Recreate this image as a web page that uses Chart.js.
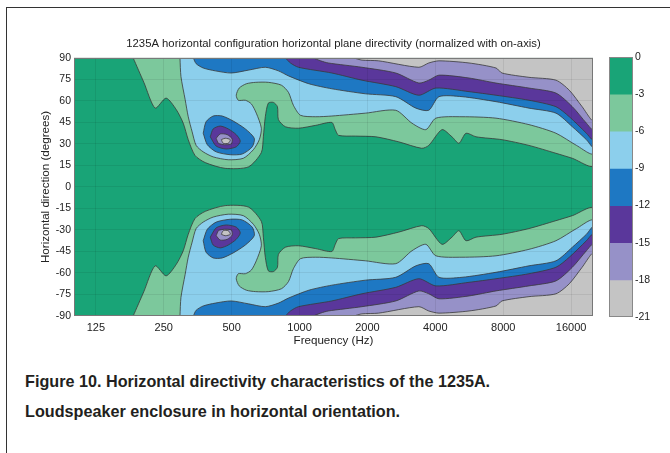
<!DOCTYPE html>
<html>
<head>
<meta charset="utf-8">
<script src="https://cdn.jsdelivr.net/npm/chart.js@4.4.0/dist/chart.umd.min.js"></script>
<style>
  html, body { margin: 0; padding: 0; background: #fff; }
  body { width: 670px; height: 453px; position: relative; overflow: hidden; font-family: "Liberation Sans", Arial, sans-serif; }
  #frame { position: absolute; left: 6px; top: 7px; width: 670px; height: 460px; border-top: 1.5px solid #333; border-left: 1.5px solid #333; }
  #plot { position: absolute; left: 0; top: 0; }
  #bar { position: absolute; left: 600px; top: 0; }
  #caption { position: absolute; left: 25px; top: 366px; font-size: 16.2px; font-weight: bold; line-height: 30px; color: #231f20; white-space: nowrap; }
</style>
</head>
<body>
<div id="frame"></div>
<canvas id="plot" width="600" height="348"></canvas>
<canvas id="bar" width="70" height="348"></canvas>
<div id="caption">Figure 10. Horizontal directivity characteristics of the 1235A.<br>Loudspeaker enclosure in horizontal orientation.</div>
<script>
// tick labels
const freqTicks = [125, 250, 500, 1000, 2000, 4000, 8000, 16000];
const levels = [0, -3, -6, -9, -12, -15, -18, -21];

// contour lines of the upper half, [Hz, degrees]; lower half is the mirror image
const contour3 = [[183,90],[204,73],[229,55],[256,62],[284,54],[305,44.5],[321,33],[344,22],[382,17],[468,13],[593,14],[677,24],[691,35],[705,49],[727,58.5],[766,59],[798,56],[806,47],[866,42],[989,41],[1180,43],[1390,45],[1440,40],[1490,36],[1770,35.5],[2180,35],[2750,31.5],[3480,27],[3740,29],[4280,40],[4740,35],[5090,30.5],[5470,37.5],[6060,35],[7900,33],[10400,29],[13700,23.5],[16200,20],[20000,15]];
const contour6 = [[295,90],[298,77],[311,61],[321,49],[334,38.5],[348,29],[374,24.5],[414,21],[483,19],[563,20],[624,26],[663,33],[677,41],[643,51.5],[611,58],[575,60.5],[535,60.5],[524,64],[540,69],[581,72],[639,73],[727,73],[831,71],[893,66],[939,57],[1010,50],[1180,49],[1390,49.5],[1960,51.5],[2670,53.5],[3150,44.5],[3630,40],[4020,48],[5250,49],[7430,48],[10400,43.5],[13700,37.5],[16900,29],[20000,23.5]];
const contour9 = [[338,90],[348,86],[374,83],[423,81],[498,79.5],[593,81.5],[705,83.5],[806,81],[893,77.5],[1100,72],[1390,68.5],[1960,65],[2670,63],[3280,55],[3740,53.5],[4150,63],[5250,63],[7430,59.5],[10400,55],[13700,51.5],[16200,42],[18700,33],[20000,28]];
const contour12 = [[866,90],[911,86.5],[989,83.5],[1390,79.5],[1890,74.5],[2670,70],[3380,64],[4020,69],[5640,66.5],[7430,64],[10400,60.5],[13700,56],[15700,49],[18700,37.5],[20000,33]];
const contour15 = [[1150,90],[1240,88],[1340,86.5],[1890,83.5],[2670,79.5],[3380,72.5],[3740,74.5],[4150,78],[5640,76],[7430,72.5],[10400,69],[13700,65.5],[16200,56],[18700,44.5],[20000,40]];
const contour18 = [[1740,90],[1890,88.5],[2240,88],[3380,83.5],[3740,86.5],[4150,88],[5640,86.5],[7430,83],[7900,79.5],[10400,76.5],[13700,74.5],[15700,67.5],[17900,56],[20000,46.5]];

// closed lobe near 500 Hz
const lobe9 = [[374,37.5],[385,45.5],[414,49.5],[454,49.5],[508,46],[575,40.5],[630,34],[617,28],[557,23],[493,22.5],[427,24.5],[390,29.5]];
const lobe12 = [[402,35],[414,40.5],[445,42.5],[483,40.5],[524,36.5],[546,32],[524,28],[473,26.5],[427,28.5]];
const lobe15 = [[427,34],[445,37],[478,36.5],[503,33.5],[498,30],[464,29.5],[437,30.5]];
const lobe18 = [[450,33],[468,34],[493,33],[483,30.5],[459,30.5]];

const bandColors = ['#19a477', '#7cc89c', '#8ccfec', '#1e78c3', '#5a379b', '#9691c8', '#c4c4c4'];
const textColor = '#222';
const family = "'Liberation Sans', Arial, sans-serif";

Chart.defaults.font.family = family;

const fMin = 100, fMax = 20000;

function region(points, sign, openToEdge, color) {
    const data = points.map(p => ({ x: p[0], y: sign * p[1] }));
    if (openToEdge) data.push({ x: fMax, y: sign * 90 });
    else data.push(data[0]);
    return {
        data: data,
        showLine: true,
        fill: 'shape',
        backgroundColor: color,
        borderColor: '#3a3a3a',
        borderWidth: 0.8,
        pointRadius: 0,
        tension: 0.25
    };
}

const datasets = [];
[contour3, contour6, contour9, contour12, contour15, contour18].forEach((c, i) => {
    datasets.push(region(c, 1, true, bandColors[i + 1]));
    datasets.push(region(c, -1, true, bandColors[i + 1]));
});
[lobe9, lobe12, lobe15, lobe18].forEach((c, i) => {
    datasets.push(region(c, 1, false, bandColors[i + 3]));
    datasets.push(region(c, -1, false, bandColors[i + 3]));
});
// first dataset at the bottom
datasets.forEach((d, i) => { d.order = datasets.length - i; });

const plotFrame = {
    id: 'plotFrame',
    beforeDraw(chart) {
        const { ctx, chartArea: a } = chart;
        ctx.save();
        ctx.fillStyle = bandColors[0];
        ctx.fillRect(a.left, a.top, a.right - a.left, a.bottom - a.top);
        ctx.restore();
    },
    afterDraw(chart) {
        const { ctx, chartArea: a } = chart;
        ctx.save();
        ctx.strokeStyle = '#777';
        ctx.lineWidth = 1;
        ctx.strokeRect(a.left + 0.5, a.top + 0.5, a.right - a.left - 1, a.bottom - a.top - 1);
        ctx.restore();
    }
};

new Chart(document.getElementById('plot'), {
    type: 'scatter',
    data: { datasets: datasets },
    options: {
        responsive: false,
        animation: false,
        devicePixelRatio: 1,
        layout: { padding: { left: 39, right: 7, top: 0, bottom: 0 } },
        plugins: {
            legend: { display: false },
            tooltip: { enabled: false },
            title: {
                display: true,
                fullSize: false,
                text: '1235A horizontal configuration horizontal plane directivity (normalized with on-axis)',
                color: textColor,
                font: { size: 11.3, weight: 'normal' },
                padding: { top: 37, bottom: 7.4 }
            }
        },
        scales: {
            x: {
                type: 'logarithmic',
                min: fMin,
                max: fMax,
                afterBuildTicks: s => { s.ticks = freqTicks.map(v => ({ value: v })); },
                afterFit: s => { s.height = 32; },
                ticks: { callback: v => String(v), color: textColor, font: { size: 11 }, padding: 5, maxRotation: 0, autoSkip: false },
                grid: { color: 'rgba(0,0,0,0.07)', z: 1, drawTicks: false },
                border: { display: false },
                title: { display: true, text: 'Frequency (Hz)', color: textColor, font: { size: 11.6 }, padding: 0 }
            },
            y: {
                min: -90,
                max: 90,
                afterFit: s => { s.width = 35; },
                ticks: { stepSize: 15, color: textColor, font: { size: 10.5 }, padding: 3 },
                grid: { color: 'rgba(0,0,0,0.07)', z: 1, drawTicks: false },
                border: { display: false },
                title: { display: true, text: 'Horizontal direction (degrees)', color: textColor, font: { size: 11.6 }, padding: 0 }
            }
        }
    },
    plugins: [plotFrame]
});

const barOutline = {
    id: 'barOutline',
    afterDraw(chart) {
        const { ctx, chartArea: a } = chart;
        ctx.save();
        ctx.strokeStyle = '#888';
        ctx.lineWidth = 1;
        ctx.strokeRect(a.left + 0.5, a.top + 0.5, a.right - a.left - 1, a.bottom - a.top - 1);
        ctx.restore();
    }
};

new Chart(document.getElementById('bar'), {
    type: 'bar',
    data: {
        labels: [''],
        datasets: bandColors.map((c, i) => ({
            data: [levels[i + 1] - levels[i]],
            backgroundColor: c,
            borderWidth: 0,
            barPercentage: 1,
            categoryPercentage: 1
        }))
    },
    options: {
        responsive: false,
        animation: false,
        devicePixelRatio: 1,
        layout: { padding: { left: 9, top: 57, right: 0, bottom: 31 } },
        plugins: { legend: { display: false }, tooltip: { enabled: false } },
        scales: {
            x: { display: false, stacked: true },
            y: {
                position: 'right',
                stacked: true,
                min: -21,
                max: 0,
                afterFit: s => { s.width = 37; },
                ticks: { stepSize: 3, color: textColor, font: { size: 10.5 }, padding: 2 },
                grid: { display: false, drawTicks: false },
                border: { display: false }
            }
        }
    },
    plugins: [barOutline]
});
</script>
</body>
</html>
